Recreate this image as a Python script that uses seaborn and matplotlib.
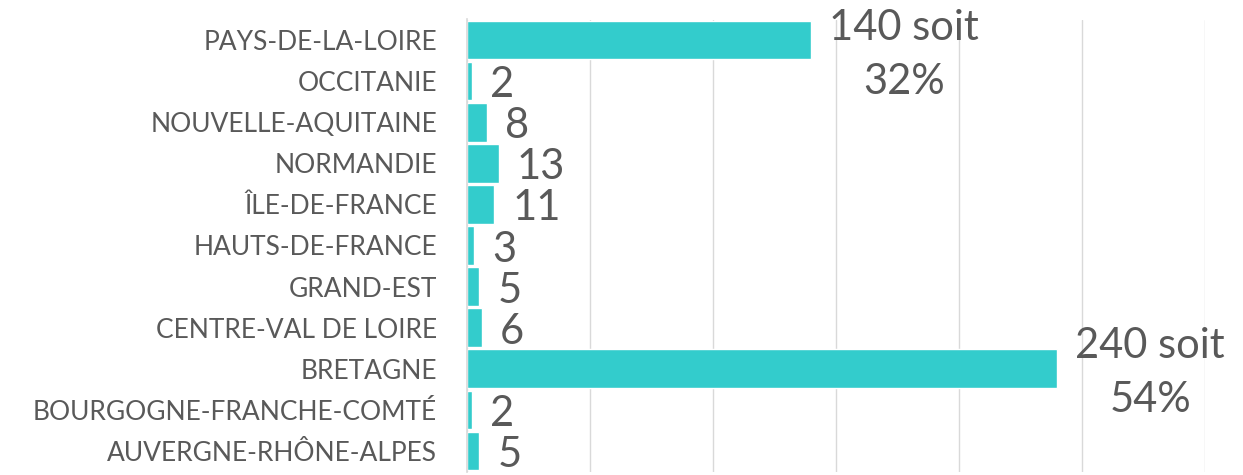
import matplotlib
matplotlib.use("Agg")
import matplotlib.pyplot as plt
import seaborn as sns
import pandas as pd

# Données (de haut en bas)
regions = ["PAYS-DE-LA-LOIRE", "OCCITANIE", "NOUVELLE-AQUITAINE", "NORMANDIE",
           "ÎLE-DE-FRANCE", "HAUTS-DE-FRANCE", "GRAND-EST", "CENTRE-VAL DE LOIRE",
           "BRETAGNE", "BOURGOGNE-FRANCHE-COMTÉ", "AUVERGNE-RHÔNE-ALPES"]
valeurs = [140, 2, 8, 13, 11, 3, 5, 6, 240, 2, 5]
etiquettes = ["140 soit\n32%", "2", "8", "13", "11", "3", "5", "6",
              "240 soit\n54%", "2", "5"]

df = pd.DataFrame({"region": regions, "valeur": valeurs})

sns.set_style("white")
plt.rcParams["font.family"] = ["Lato", "DejaVu Sans"]
gris = "#595959"

fig = plt.figure(figsize=(12.43, 4.75), dpi=100)
ax = fig.add_axes([467 / 1243, 1 - 471.5 / 475, (1205 - 467) / 1243, 452 / 475])

sns.barplot(data=df, x="valeur", y="region", orient="h", color="#33CCCC",
            saturation=1, width=0.94, ax=ax)

ax.set_xlim(0, 300)
ax.set_ylim(10.5, -0.5)
ax.set_xticks(range(0, 301, 50))
ax.xaxis.grid(True, color="#d9d9d9", linewidth=1)
ax.set_axisbelow(True)
ax.set_xticklabels([])
ax.tick_params(axis="x", length=0)
ax.tick_params(axis="y", length=0, labelsize=19, labelcolor=gris, pad=21.5)
ax.set_xlabel("")
ax.set_ylabel("")
for s in ["top", "right", "bottom"]:
    ax.spines[s].set_visible(False)
ax.spines["left"].set_color("#d9d9d9")
ax.spines["left"].set_linewidth(1.2)

# Étiquettes de données
for i, (v, t) in enumerate(zip(valeurs, etiquettes)):
    if "\n" in t:
        dy = -15 if i == 0 else -4
        ax.annotate(t, xy=(v, i), xytext=(18, dy), textcoords="offset pixels",
                    ha="left", va="center", multialignment="center",
                    fontsize=30, color=gris, linespacing=1.5,
                    annotation_clip=False)
    else:
        ax.annotate(t, xy=(v, i), xytext=(18, -4), textcoords="offset pixels",
                    ha="left", va="center", fontsize=30, color=gris,
                    annotation_clip=False)

fig.savefig("out.png", dpi=100)
